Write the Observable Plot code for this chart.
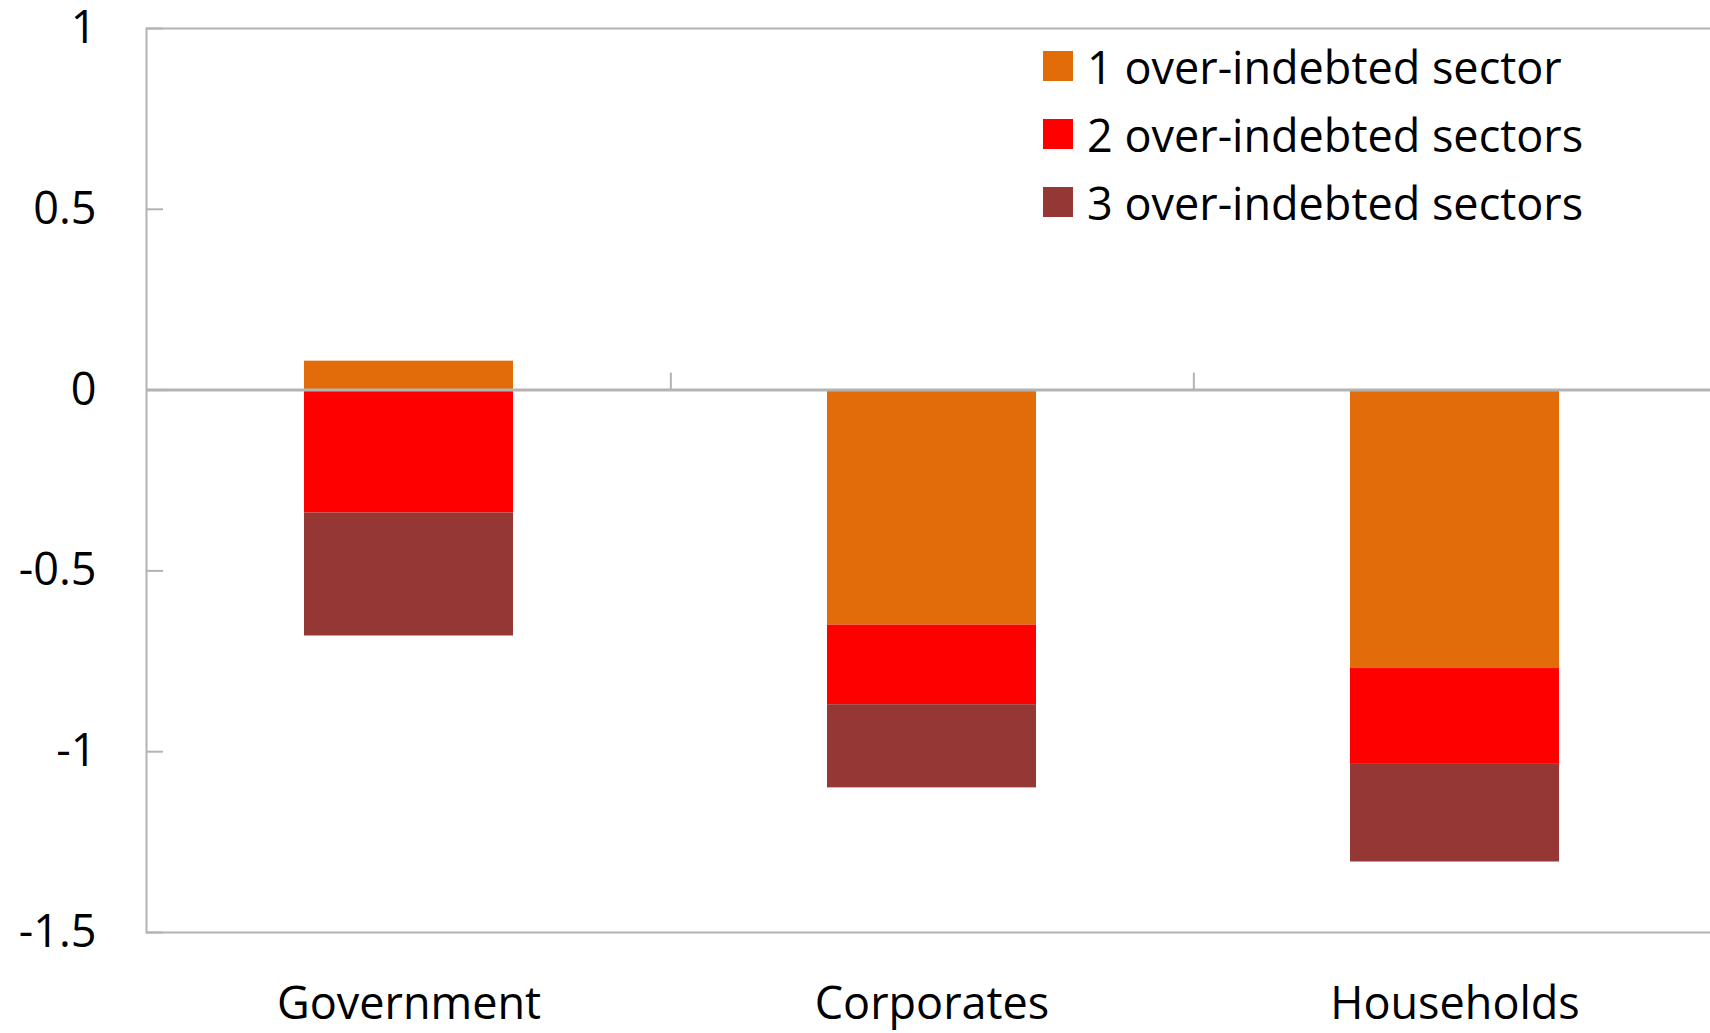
<!DOCTYPE html>
<html>
<head>
<meta charset="utf-8">
<script src="https://cdn.jsdelivr.net/npm/d3@7"></script>
<script src="https://cdn.jsdelivr.net/npm/@observablehq/plot@0.6"></script>
<style>
  html, body { margin: 0; padding: 0; background: white; }
  #wrap { position: relative; width: 1710px; height: 1033px; overflow: hidden; }
  #legend { position: absolute; left: 1043px; top: 32px; font-family: "Open Sans", sans-serif; font-size: 45px; color: #000; }
  #legend .row { display: flex; align-items: center; height: 68px; white-space: pre; }
  #legend .sw { width: 30px; height: 30px; margin-right: 14px; flex: none; }
</style>
</head>
<body>
<div id="wrap"><div id="legend"></div></div>
<script>
// Sectors on the x axis
const categories = ["Government", "Corporates", "Households"];
// Series: number of over-indebted sectors
const series = ["1 over-indebted sector", "2 over-indebted sectors", "3 over-indebted sectors"];
const oneSector = [0.08, -0.65, -0.77];
const twoSectors = [-0.34, -0.22, -0.265];
const threeSectors = [-0.34, -0.23, -0.27];
const yTicks = [1, 0.5, 0, -0.5, -1, -1.5];
const colors = ["#E36C0A", "#FF0000", "#953735"];

const seriesValues = [oneSector, twoSectors, threeSectors];
const rows = [];
series.forEach((s, i) => categories.forEach((c, j) => rows.push({category: c, series: s, value: seriesValues[i][j]})));

const W = 1710, H = 1033;
const mTop = 28, mBottom = 101, mLeft = 146, mRight = -7;
const plotW = W - mLeft - mRight;
const plotH = H - mTop - mBottom;
const step = plotW / categories.length;
const zeroOffset = plotH * 1 / 2.5;
const tickLen = 17;
const gray = "#b3b3b3";

const chart = Plot.plot({
  width: W,
  height: H,
  marginTop: mTop,
  marginBottom: mBottom,
  marginLeft: mLeft,
  marginRight: mRight,
  x: {domain: categories, paddingInner: 0.6, paddingOuter: 0.3},
  y: {domain: [-1.5, 1]},
  color: {domain: series, range: colors},
  style: {fontFamily: "Open Sans, sans-serif", fontSize: "45px", color: "#000", background: "white", overflow: "visible"},
  marks: [
    Plot.barY(rows, {x: "category", y: "value", fill: "series", order: series}),
    Plot.ruleY([0], {stroke: gray, strokeWidth: 3}),
    Plot.frame({stroke: gray, strokeWidth: 2}),
    // short inward ticks on the value axis
    Plot.ruleY(yTicks, {y: d => d, stroke: gray, strokeWidth: 2, insetRight: plotW - tickLen}),
    // category separators rising from the zero line
    Plot.ruleX(categories.slice(0, -1), {x: d => d, dx: step / 2, y1: 1, y2: 0, stroke: gray, strokeWidth: 2, insetTop: zeroOffset - tickLen}),
    Plot.axisY({ticks: yTicks, tickSize: 0, tickPadding: 50, tickFormat: d => String(d), label: null, fontSize: 45}),
    Plot.axisX({tickSize: 0, tickPadding: 55, label: null, fontSize: 45})
  ]
});
document.getElementById("wrap").prepend(chart);

// Legend drawn over the plot area
const legend = d3.select("#legend");
series.forEach((s, i) => {
  const row = legend.append("div").attr("class", "row");
  row.append("div").attr("class", "sw").style("background", colors[i]);
  row.append("span").text(s);
});
</script>
</body>
</html>
